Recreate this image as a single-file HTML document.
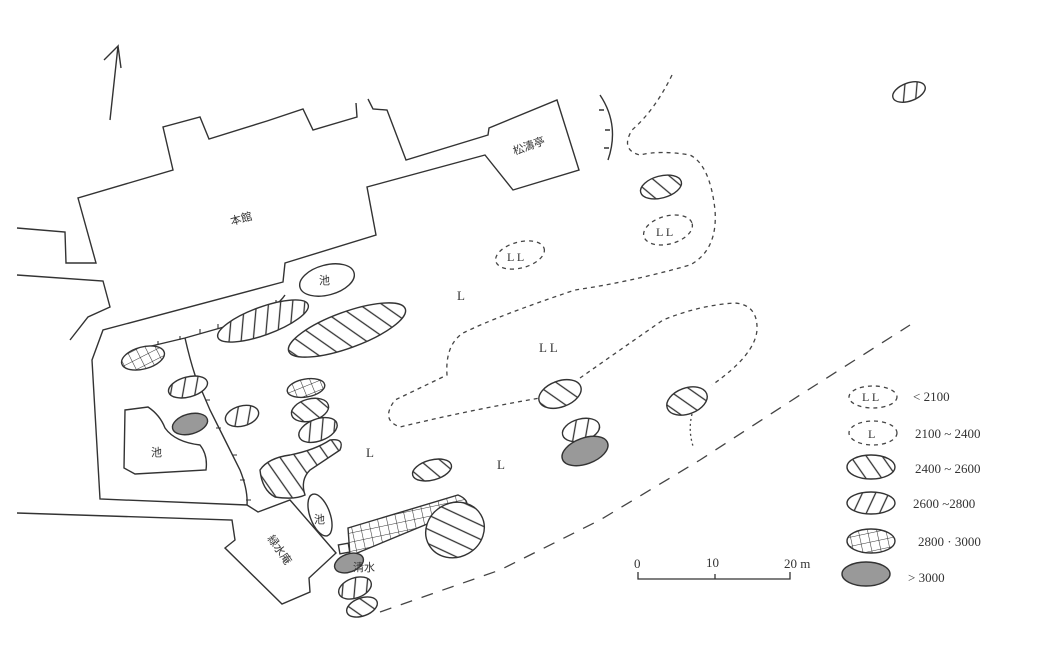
<!DOCTYPE html>
<html><head><meta charset="utf-8"><style>
html,body{margin:0;padding:0;background:#fff;}
svg{display:block;}
text{font-family:"Liberation Serif","Noto Serif CJK SC",serif;fill:#333;}
.j{font-family:"Liberation Sans","Noto Sans CJK JP",sans-serif;font-size:11px;}
</style></head><body>
<svg width="1039" height="654" viewBox="0 0 1039 654" xmlns="http://www.w3.org/2000/svg">
<defs>
<pattern id="bk" width="13" height="13" patternUnits="userSpaceOnUse" patternTransform="rotate(-35)"><rect width="13" height="13" fill="#fff"/><line x1="6" y1="0" x2="6" y2="13" stroke="#333" stroke-width="1.3"/></pattern>
<pattern id="fw" width="12" height="12" patternUnits="userSpaceOnUse" patternTransform="rotate(25)"><rect width="12" height="12" fill="#fff"/><line x1="6" y1="0" x2="6" y2="12" stroke="#333" stroke-width="1.3"/></pattern>
<pattern id="gr" width="9" height="9" patternUnits="userSpaceOnUse" patternTransform="rotate(-12)"><rect width="9" height="9" fill="#fff"/><path d="M0 0H9M0 0V9" stroke="#333" stroke-width="1.1"/></pattern>
</defs>
<g fill="none" stroke="#333" stroke-width="1.4">
<path d="M110 120 L118 46 L104 60 M118 46 L121 68"/>
<path d="M356 103 L357 117 L313 130 L303 109 L267 121 L209 139 L200 117 L163 127 L173 170 L78 198 L96 263 L66 263 L65 232 L17 228"/>
<path d="M368 99 L373 109 L387 110 L406 160 L488 135 L489 128 L557 100 L579 170 L513 190 L485 155 L367 187 L376 235 L285 263 L283 282 L103 330 L92 360 L100 499 L247 505 L258 512 L290 500 L336 553 L309 578 L310 592 L282 604 L225 548 L235 540 L232 520 L17 513"/>
<path d="M17 275 L103 281 L110 307 L88 317 L70 340"/>
<path d="M143 348 L185 338 L245 321 Q275 310 285 295"/>
<path d="M185 338 Q190 360 195 375 L210 410 L225 440 L240 470 Q248 490 247 505"/>
<path d="M158 345v-4M180 340v-4M200 334v-5M218 329v-5M235 323v-5M252 318v-5M265 312v-5M276 304v-4M197 380h5M205 400h5M216 428h5M232 455h5M240 480h5M246 500h5" stroke-width="1.1"/>
<path d="M600 95 Q620 125 608 160 M604 110h-5M610 130h-5M609 148h-5" />
<ellipse cx="327" cy="280" rx="28" ry="15" transform="rotate(-15 327 280)"/>
<path d="M125 410 L148 407 Q160 415 165 428 Q175 442 200 445 Q208 455 206 470 L135 474 L124 468 Z"/>
<ellipse cx="320" cy="515" rx="10" ry="22" transform="rotate(-20 320 515)"/>
<rect x="339" y="544" width="10" height="9" transform="rotate(-10 344 548)"/>
</g>
<g stroke="#333" stroke-width="1.4">
<ellipse cx="263" cy="321" rx="48" ry="14" fill="url(#fw)" transform="rotate(-20 263 321)"/>
<ellipse cx="347" cy="330" rx="62" ry="18" fill="url(#bk)" transform="rotate(-20 347 330)"/>
<ellipse cx="143" cy="358" rx="22" ry="11" fill="url(#gr)" transform="rotate(-15 143 358)"/>
<ellipse cx="188" cy="387" rx="20" ry="10" fill="url(#fw)" transform="rotate(-15 188 387)"/>
<ellipse cx="306" cy="388" rx="19" ry="9" fill="url(#gr)" transform="rotate(-10 306 388)"/>
<ellipse cx="310" cy="410" rx="19" ry="11" fill="url(#bk)" transform="rotate(-15 310 410)"/>
<ellipse cx="242" cy="416" rx="17" ry="10" fill="url(#fw)" transform="rotate(-15 242 416)"/>
<ellipse cx="190" cy="424" rx="18" ry="10" fill="#999" transform="rotate(-15 190 424)"/>
<ellipse cx="318" cy="430" rx="20" ry="11" fill="url(#fw)" transform="rotate(-20 318 430)"/>
<path d="M330 440 Q345 438 340 450 Q322 462 310 470 Q300 480 305 495 Q295 500 275 497 Q262 490 260 470 Q268 458 290 455 Q315 450 330 440 Z" fill="url(#bk)"/>
<ellipse cx="432" cy="470" rx="20" ry="10" fill="url(#bk)" transform="rotate(-15 432 470)"/>
<path d="M348 528 L458 495 Q470 500 466 508 L350 556 Z" fill="url(#gr)"/>
<ellipse cx="455" cy="530" rx="30" ry="27" fill="url(#bk)" transform="rotate(-30 455 530)"/>
<ellipse cx="349" cy="563" rx="15" ry="9" fill="#999" transform="rotate(-20 349 563)"/>
<ellipse cx="355" cy="588" rx="17" ry="10" fill="url(#fw)" transform="rotate(-20 355 588)"/>
<ellipse cx="362" cy="607" rx="16" ry="9" fill="url(#bk)" transform="rotate(-20 362 607)"/>
<ellipse cx="560" cy="394" rx="22" ry="13" fill="url(#bk)" transform="rotate(-20 560 394)"/>
<ellipse cx="581" cy="430" rx="19" ry="11" fill="url(#fw)" transform="rotate(-15 581 430)"/>
<ellipse cx="585" cy="451" rx="24" ry="13" fill="#999" transform="rotate(-20 585 451)"/>
<ellipse cx="687" cy="401" rx="21" ry="13" fill="url(#bk)" transform="rotate(-20 687 401)"/>
<ellipse cx="661" cy="187" rx="21" ry="11" fill="url(#bk)" transform="rotate(-15 661 187)"/>
<ellipse cx="909" cy="92" rx="17" ry="9" fill="url(#fw)" transform="rotate(-20 909 92)"/>
<ellipse cx="871" cy="467" rx="24" ry="12" fill="url(#bk)"/>
<ellipse cx="871" cy="503" rx="24" ry="11" fill="url(#fw)"/>
<ellipse cx="871" cy="541" rx="24" ry="12" fill="url(#gr)"/>
<ellipse cx="866" cy="574" rx="24" ry="12" fill="#999"/>
</g>
<g fill="none" stroke="#444" stroke-width="1.3" stroke-dasharray="4 4">
<path d="M672 75 Q655 110 632 130 Q620 150 640 155 Q660 150 690 155 Q710 165 715 210 Q718 250 690 265 Q630 282 575 290 Q500 315 463 333 Q445 345 447 375 Q420 388 395 400 Q380 420 400 427 Q470 410 540 398"/>
<path d="M580 378 Q620 350 663 320 Q700 305 735 303 Q758 305 757 330 Q755 355 712 385"/>
<path d="M692 414 Q688 430 693 446" stroke-dasharray="2 3"/>
<ellipse cx="520" cy="255" rx="25" ry="13" transform="rotate(-15 520 255)"/>
<ellipse cx="668" cy="230" rx="25" ry="14" transform="rotate(-15 668 230)"/>
<ellipse cx="873" cy="397" rx="24" ry="11"/>
<ellipse cx="873" cy="433" rx="24" ry="12"/>
<path d="M380 612 L500 570 L600 520 L700 460 L800 395 L910 325" stroke-dasharray="12 10"/>
</g>
<path d="M638 572 V579 H790 V572 M715 579 V574" fill="none" stroke="#333" stroke-width="1.3"/>
<text x="634" y="568" font-size="13">0</text>
<text x="706" y="567" font-size="13">10</text>
<text x="784" y="568" font-size="13">20 m</text>
<g font-size="13">
<text x="457" y="300">L</text><text x="539" y="352">L L</text><text x="366" y="457">L</text><text x="497" y="469">L</text>
<text x="507" y="261" font-size="12">L L</text><text x="656" y="236" font-size="12">L L</text>
<text x="862" y="401" font-size="12">L L</text><text x="868" y="438" font-size="12">L</text>
</g>
<g font-size="13" font-family="Liberation Sans, sans-serif">
<text x="913" y="401">&lt; 2100</text>
<text x="915" y="438">2100 ~ 2400</text>
<text x="915" y="473">2400 ~ 2600</text>
<text x="913" y="508">2600 ~2800</text>
<text x="918" y="546">2800 · 3000</text>
<text x="908" y="582">&gt; 3000</text>
</g>
<text class="j" x="230" y="222" transform="rotate(-15 243 218)">本館</text>
<text class="j" x="512" y="150" transform="rotate(-20 528 145)">松濤亭</text>
<text class="j" x="319" y="284">池</text>
<text class="j" x="151" y="456">池</text>
<text class="j" x="314" y="523">池</text>
<text class="j" x="353" y="571">清水</text>
<text class="j" x="263" y="554" transform="rotate(55 280 550)">緑水庵</text>
</svg>
</body></html>
